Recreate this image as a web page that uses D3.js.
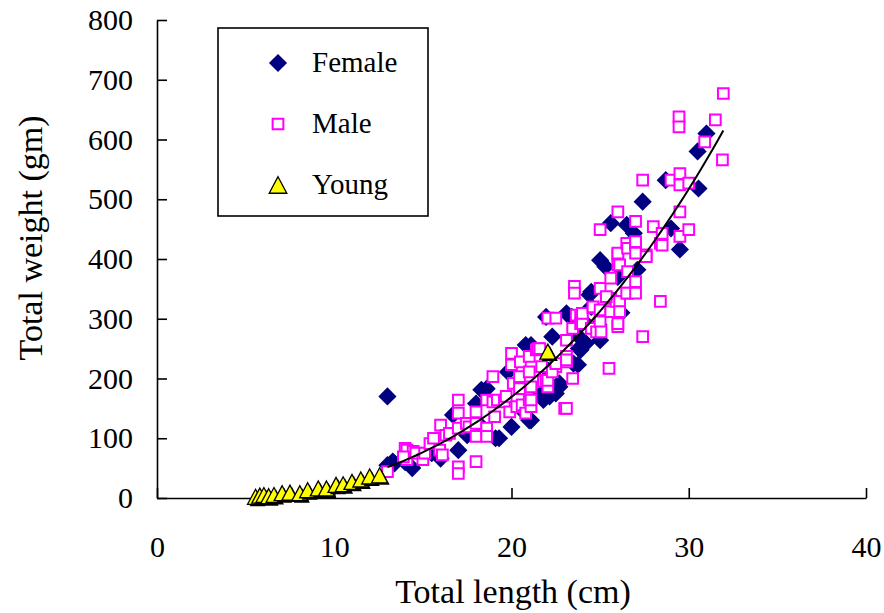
<!DOCTYPE html>
<html>
<head>
<meta charset="utf-8">
<script src="https://cdn.jsdelivr.net/npm/d3@7"></script>
<style>
  body { margin: 0; background: #fff; }
</style>
</head>
<body>
<div id="chart"></div>
<script>
// values
const femaleLength = [13.0, 13.0, 13.3, 13.4, 14.0, 14.4, 15.5, 16.0, 16.7, 17.0, 17.5, 18.0, 18.3, 18.6, 18.3,
  19.1, 19.3, 19.8, 20.0, 20.5, 20.8, 21.0, 21.1, 21.1, 21.7, 21.8, 21.95, 22.0, 22.15, 22.3, 22.5, 22.7, 22.7,
  23.1, 23.4, 23.5, 23.75, 23.8, 23.8, 23.9, 24.0, 24.2, 24.4, 24.5, 24.5, 24.9, 25.0, 25.0, 25.3, 25.6, 26.0,
  26.2, 26.5, 26.9, 27.1, 27.4, 28.7, 29.0, 29.5, 30.5, 30.55, 31.0];
const femaleWeight = [170, 55, 61, 58, 60, 50, 75, 66, 139, 80, 105, 158, 181, 183, 120,
  100, 100, 211, 119, 150, 256, 130, 130, 256, 175, 164, 303, 215, 170, 270, 175, 186, 192,
  309, 303, 225, 223, 270, 250, 248, 298, 259, 340, 345, 320, 290, 398, 264, 387, 460, 370,
  310, 457, 443, 382, 496, 532, 451, 416, 580, 518, 610];

const maleLength = [13.0, 14.0, 14.1, 14.1, 14.45, 14.6, 13.9, 15.0, 15.1, 15.4, 15.6, 15.95, 16.1, 16.0, 16.3,
  16.5, 17.0, 17.0, 17.0, 17.0, 17.0, 17.45, 17.6, 18.0, 18.0, 18.0, 18.0, 18.6, 18.6, 18.6, 18.95, 18.95,
  19.05, 19.2, 19.6, 19.7, 19.9,
  20.0, 20.0, 20.1, 20.3, 20.45, 20.45, 20.6, 20.8, 20.5, 21.0, 21.0, 21.0, 21.1, 21.1, 21.1, 21.4, 21.5,
  21.6, 21.7, 21.8, 21.95, 22.05, 22.05, 22.05, 22.5, 22.5, 22.3, 22.5,
  23.0, 23.1, 23.1, 23.1, 23.1, 23.1, 23.45, 23.45, 23.55, 23.55, 23.65, 23.9, 23.9, 24.0, 24.0, 24.5, 24.6,
  24.6, 24.8, 25.0, 25.0, 25.05, 25.0, 25.0, 25.5, 25.6, 25.6, 25.6, 25.9, 25.35,
  26.0, 26.0, 26.0, 26.0, 26.0, 26.0, 26.1, 26.1, 26.1, 26.5, 26.55, 26.55, 26.55, 26.5, 27.0, 27.0, 27.0,
  27.0, 27.0, 27.0, 27.4, 27.4, 27.6, 27.6, 28.0, 28.4, 28.4, 28.5, 28.5,
  29.0, 29.5, 29.5, 29.5, 29.5, 30.0, 30.0, 29.45, 29.45, 30.9, 31.5, 31.9, 31.95];
const maleWeight = [44, 83, 64, 80, 78, 75, 69, 64, 75, 91, 100, 80, 72, 122, 105,
  108, 164, 142, 117, 52, 41, 125, 119, 144, 125, 103, 61, 117, 103, 164, 203, 161,
  136, 164, 161, 170, 144,
  242, 223, 192, 153, 203, 183, 156, 142, 228, 211, 237, 164, 186, 153, 164, 248, 250,
  250, 220, 195, 197, 186, 197, 301, 301, 220, 211, 225,
  150, 150, 264, 237, 228, 231, 200, 284, 354, 343, 306, 303, 292, 292, 309, 284, 318,
  320, 278, 351, 295, 278, 315, 449, 217, 368, 334, 312, 329, 337,
  407, 410, 390, 287, 292, 479, 390, 329, 312, 426, 418, 379, 343, 343, 426, 410, 463,
  429, 362, 343, 532, 270, 407, 404, 454, 426, 329, 423, 443,
  532, 543, 524, 479, 438, 527, 449, 638, 621, 596, 633, 566, 677];

const youngLength = [5.56, 5.8, 6.03, 6.3, 6.6, 7.06, 7.5, 8.06, 8.5, 9.1, 9.56, 10.1, 10.5, 11.0, 11.5, 12.0, 12.56, 22.05];
const youngWeight = [2, 4, 5, 3, 5, 8, 9, 8, 13, 16, 16, 22, 23, 27, 31, 36, 38, 245];

const xTicks = [0, 10, 20, 30, 40];
const yTicks = [0, 100, 200, 300, 400, 500, 600, 700, 800];
const legendNames = ["Female", "Male", "Young"];

const FONT = "'Liberation Serif', 'Times New Roman', 'DejaVu Serif', serif";
const W = 884, H = 613;
const svg = d3.select("#chart").append("svg").attr("width", W).attr("height", H)
  .style("font-family", FONT);

const x = d3.scaleLinear().domain([0, 40]).range([157, 866]);
const y = d3.scaleLinear().domain([0, 800]).range([498, 20]);

// axes, ticks pointing inward
const xAxis = svg.append("g").attr("transform", "translate(0,498)")
  .call(d3.axisBottom(x).tickValues(xTicks).tickSizeInner(-10).tickSizeOuter(0).tickPadding(38));
const yAxis = svg.append("g").attr("transform", "translate(157,0)")
  .call(d3.axisLeft(y).tickValues(yTicks).tickSizeInner(-10).tickSizeOuter(0).tickPadding(24));
[xAxis, yAxis].forEach(a => {
  a.attr("font-family", null).attr("font-size", null);
  a.selectAll("path, line").attr("stroke", "#000").attr("stroke-width", 1.6);
  a.selectAll("text").attr("fill", "#000").style("font-family", FONT).style("font-size", "30px");
});

svg.append("text").attr("x", 513).attr("y", 603).attr("text-anchor", "middle")
  .style("font-family", FONT).style("font-size", "34px").text("Total length (cm)");
svg.append("text").attr("transform", "translate(42,238) rotate(-90)").attr("text-anchor", "middle")
  .style("font-family", FONT).style("font-size", "34px").text("Total weight (gm)");

const diamond = d3.symbol().type(d3.symbolSquare).size(165)();
const square = d3.symbol().type(d3.symbolSquare).size(115)();
const triangle = "M0,-7.5L8,7.5L-8,7.5Z";

const females = femaleLength.map((l, i) => ({l, w: femaleWeight[i]}));
const males = maleLength.map((l, i) => ({l, w: maleWeight[i]}));
const youngs = youngLength.map((l, i) => ({l, w: youngWeight[i]}));

svg.append("g").selectAll("path").data(females).join("path")
  .attr("d", diamond)
  .attr("transform", d => `translate(${x(d.l)},${y(d.w)}) rotate(45)`)
  .attr("fill", "#000080");

svg.append("g").selectAll("path").data(males).join("path")
  .attr("d", square)
  .attr("transform", d => `translate(${x(d.l)},${y(d.w)})`)
  .attr("fill", "#fff").attr("stroke", "#ff00ff").attr("stroke-width", 2);

const yg = svg.append("g").selectAll("g").data(youngs).join("g")
  .attr("transform", d => `translate(${x(d.l)},${y(d.w)})`);
yg.append("path").attr("d", triangle).attr("transform", "translate(2,2)").attr("fill", "#000");
yg.append("path").attr("d", triangle).attr("fill", "#ffff00").attr("stroke", "#000").attr("stroke-width", 1.3);

// power trendline fitted to female + male
const adults = females.concat(males);
const lx = adults.map(d => Math.log(d.l)), ly = adults.map(d => Math.log(d.w));
const mx = d3.mean(lx), my = d3.mean(ly);
const b = d3.sum(lx, (v, i) => (v - mx) * (ly[i] - my)) / d3.sum(lx, v => (v - mx) * (v - mx));
const a = Math.exp(my - b * mx);
const [lmin, lmax] = d3.extent(adults, d => d.l);
const fit = d3.range(0, 61).map(i => {
  const l = lmin + (lmax - lmin) * i / 60;
  return {l, w: a * Math.pow(l, b)};
});
svg.append("path").datum(fit)
  .attr("d", d3.line().x(d => x(d.l)).y(d => y(d.w)))
  .attr("fill", "none").attr("stroke", "#000").attr("stroke-width", 2);

// legend
const legend = svg.append("g");
legend.append("rect").attr("x", 218).attr("y", 28).attr("width", 210).attr("height", 188)
  .attr("fill", "#fff").attr("stroke", "#000").attr("stroke-width", 1.6);
const rows = legend.selectAll("g.row").data(legendNames).join("g").attr("class", "row")
  .attr("transform", (d, i) => `translate(0,${63 + i * 61})`);
rows.filter((d, i) => i === 0).append("path").attr("d", diamond)
  .attr("transform", "translate(278,0) rotate(45)").attr("fill", "#000080");
rows.filter((d, i) => i === 1).append("path").attr("d", square)
  .attr("transform", "translate(278,0)").attr("fill", "#fff").attr("stroke", "#ff00ff").attr("stroke-width", 2);
rows.filter((d, i) => i === 2).append("path").attr("d", triangle)
  .attr("transform", "translate(278,0) scale(1.1)").attr("fill", "#ffff00").attr("stroke", "#000").attr("stroke-width", 1.2);
rows.append("text").attr("x", 312).attr("y", 9).style("font-family", FONT).style("font-size", "29px").text(d => d);
</script>
</body>
</html>
